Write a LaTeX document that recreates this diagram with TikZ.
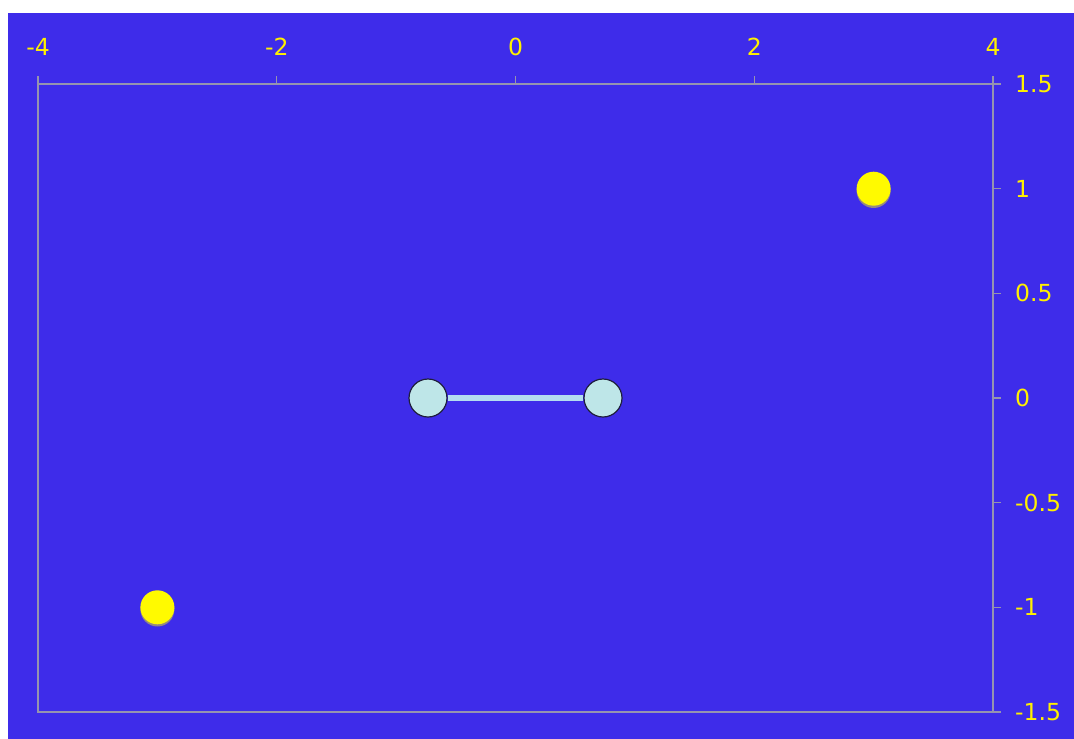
\documentclass[tikz,border=0pt]{standalone}
\usepackage{fontspec}
\setmainfont{DejaVu Sans}
\definecolor{bgblue}{RGB}{62,44,234}
\definecolor{axisgrey}{RGB}{150,148,175}
\definecolor{ticky}{RGB}{255,240,0}
\definecolor{dotyellow}{RGB}{255,250,0}
\definecolor{cyanfill}{RGB}{190,230,232}
\definecolor{linkcol}{RGB}{180,222,240}
\definecolor{outline}{RGB}{30,30,60}
\begin{document}
\begin{tikzpicture}[x=1pt,y=-1pt,
  axisline/.style={draw=axisgrey,line width=1.4pt},
  ticklab/.style={text=ticky,font=\fontsize{23.5}{26}\selectfont,inner sep=0pt},
  sun/.style={circle,fill=dotyellow,minimum size=34pt,inner sep=0pt},
  sunshadow/.style={circle,fill=dotyellow!45!bgblue,minimum size=34pt,inner sep=0pt},
  bead/.style={circle,fill=cyanfill,draw=outline,line width=1.2pt,minimum size=38pt,inner sep=0pt},
  link/.style={draw=linkcol,line width=6pt}]
\useasboundingbox (0,0) rectangle (1074,739);
\fill[white] (0,0) rectangle (1074,739);
\fill[bgblue] (8,13) rectangle (1074,739);
% frame
\draw[axisline] (38,84) rectangle (993,712);
% top ticks and labels
\foreach \v/\px in {-4/38,-2/276.75,0/515.5,2/754.25,4/993}{
  \draw[axisline] (\px,76) -- (\px,84);
  \node[ticklab,anchor=center] (xt\v) at (\px,47) {\v};
}
% right ticks and labels
\foreach \v/\py/\nm in {1.5/84/a,1/188.7/b,0.5/293.3/c,0/398/d,-0.5/502.7/e,-1/607.3/f,-1.5/712/g}{
  \draw[axisline] (993,\py) -- (1001,\py);
  \node[ticklab,anchor=west] (yt\nm) at (1015,\py) {\v};
}
% yellow points
\node[sunshadow] (s1sh) at (873.6,191) {};
\node[sun] (s1) at (873.6,188.7) {};
\node[sunshadow] (s2sh) at (157.4,609.5) {};
\node[sun] (s2) at (157.4,607.3) {};
% dumbbell
\node[bead] (b1) at (428,398) {};
\node[bead] (b2) at (603,398) {};
\draw[link] (b1.east) -- (b2.west);
\end{tikzpicture}
\end{document}
